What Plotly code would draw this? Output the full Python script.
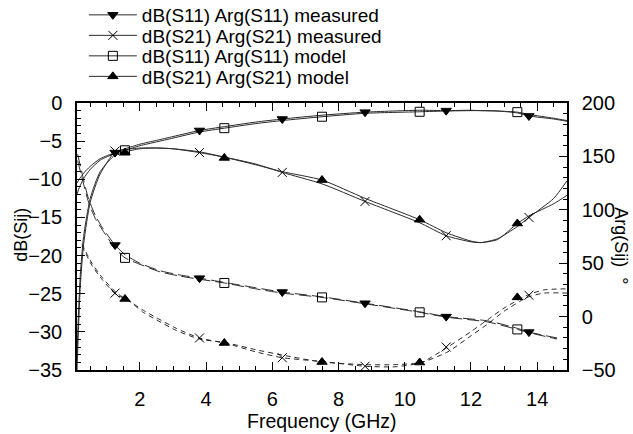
import plotly.graph_objects as go

# ---------------- data ----------------
# dB curves (left axis)
x_db = [0.1, 0.15, 0.2, 0.3, 0.5, 0.8, 1.25, 1.55, 2, 2.5, 3, 3.8, 4.55, 5.5, 6.3, 7.5,
        8.8, 10.45, 11.25, 12, 12.3, 12.8, 13.4, 13.75, 14.5, 14.9]
db_s11_meas = [-10.5, -10.1, -9.8, -9.2, -8.3, -7.3, -6.5, -6.0, -5.4, -4.9, -4.4, -3.6, -3.1,
               -2.5, -2.1, -1.6, -1.2, -0.95, -1.0, -0.95, -1.0, -1.05, -1.3, -1.7, -2.1, -2.4]
db_s11_model = [-12.0, -11.3, -10.8, -9.9, -8.7, -7.5, -6.6, -6.2, -5.6, -5.1, -4.6, -3.8, -3.3,
                -2.7, -2.3, -1.8, -1.35, -1.15, -1.05, -1.0, -1.0, -1.05, -1.2, -1.5, -2.0, -2.3]
db_s21_meas = [-35, -29, -24, -18.5, -13, -9.3, -6.4, -6.1, -5.9, -5.9, -6.0, -6.5, -7.1, -8.0,
               -9.1, -10.6, -12.9, -15.7, -17.4, -18.2, -18.3, -17.8, -16.2, -15.0, -12.5, -10.2]
db_s21_model = [-33, -27, -22.5, -17.5, -12.5, -9.0, -6.8, -6.4, -6.0, -5.9, -6.0, -6.4, -7.1,
                -8.1, -9.0, -10.1, -12.5, -15.3, -17.0, -18.1, -18.3, -17.9, -15.8, -14.8, -13.2, -12.1]

# Arg curves (right axis, degrees)
x_arg11 = [0.12, 0.3, 0.45, 0.65, 0.85, 1.25, 1.55, 2, 2.6, 3.2, 3.8, 4.55, 5.5, 6.3, 7.5,
           8.8, 10.45, 11.25, 12.5, 13.4, 13.75, 14.6]
arg_s11_meas = [152, 128, 110, 95, 84, 67, 58, 50, 43, 39, 36, 32, 27, 23, 18.5,
                12.5, 4.5, 0, -4, -11, -14.5, -20]
arg_s11_model = [146, 124, 107, 92, 82, 64, 55, 49, 42, 38, 35, 31.5, 26, 22, 18,
                 12, 4, -0.5, -5, -12, -15, -21]
x_arg21 = [0.25, 0.55, 0.85, 1.3, 1.6, 2.1, 2.5, 3.1, 3.8, 4.6, 5.5, 6.3, 7.5, 8.8, 9.7,
           10.5, 11.3, 12, 12.5, 13, 13.7, 14.2, 14.9]
arg_s21_meas = [68, 50, 37, 22, 16, 6, -1, -11, -20, -25, -33, -38.5, -42, -46.5, -47,
                -43, -28.5, -14, -3, 8, 20, 25, 26]
arg_s21_model = [66, 48, 35, 20, 16.5, 4, -3, -13, -21, -24.5, -31, -36, -42.5, -45, -45,
                 -43, -33, -18, -7, 5, 18, 22, 22]

# marker positions
mx_meas = [1.25, 3.8, 6.3, 8.8, 11.25, 13.75]
mx_model = [1.55, 4.55, 7.5, 10.45, 13.4]
m_db_s11_meas = [-6.5, -3.6, -2.1, -1.2, -1.0, -1.7]
m_arg_s11_meas = [67, 36, 23, 12.5, 0, -14.5]
m_db_s21_meas = [-6.3, -6.5, -9.1, -12.9, -17.4, -15.0]
m_arg_s21_meas = [22, -20, -38.5, -46.5, -28.5, 20]
m_db_s11_model = [-6.2, -3.3, -1.8, -1.15, -1.2]
m_arg_s11_model = [55, 31.5, 18, 4, -12]
m_db_s21_model = [-6.5, -7.2, -10.1, -15.3, -15.8]
m_arg_s21_model = [16.5, -24.7, -42.5, -43, 18]

names = ["dB(S11) Arg(S11) measured", "dB(S21) Arg(S21) measured",
         "dB(S11) Arg(S11) model", "dB(S21) Arg(S21) model"]

x_ticks = [2, 4, 6, 8, 10, 12, 14]
y1_ticks = [0, -5, -10, -15, -20, -25, -30, -35]
y2_ticks = [200, 150, 100, 50, 0, -50]

# ---------------- figure ----------------
LC = "#2a2a2a"
FONT = "Liberation Sans, Arial, sans-serif"
fig = go.Figure()

def line(x, y, axis, dash):
    fig.add_trace(go.Scatter(x=x, y=y, mode="lines", yaxis=axis, showlegend=False,
                             line=dict(color=LC, width=1, dash=dash, shape="spline", smoothing=0.6),
                             hoverinfo="skip"))

def marks(x, y, axis, symbol):
    fig.add_trace(go.Scatter(x=x, y=y, mode="markers", yaxis=axis, showlegend=False,
                             marker=dict(symbol=symbol, size=9, color="black",
                                         line=dict(color="black", width=1)),
                             hoverinfo="skip"))

line(x_db, db_s11_meas, "y", "solid")
line(x_db, db_s11_model, "y", "solid")
line(x_db, db_s21_meas, "y", "solid")
line(x_db, db_s21_model, "y", "solid")
line(x_arg11, arg_s11_meas, "y2", "12px,5px")
line(x_arg11, arg_s11_model, "y2", "12px,5px")
line(x_arg21, arg_s21_meas, "y2", "5px,4px")
line(x_arg21, arg_s21_model, "y2", "5px,4px")

symbols = ["triangle-down", "x-thin-open", "square-open", "triangle-up"]
marks(mx_meas, m_db_s11_meas, "y", symbols[0])
marks(mx_meas, m_arg_s11_meas, "y2", symbols[0])
marks(mx_meas, m_db_s21_meas, "y", symbols[1])
marks(mx_meas, m_arg_s21_meas, "y2", symbols[1])
marks(mx_model, m_db_s11_model, "y", symbols[2])
marks(mx_model, m_arg_s11_model, "y2", symbols[2])
marks(mx_model, m_db_s21_model, "y", symbols[3])
marks(mx_model, m_arg_s21_model, "y2", symbols[3])

legend_ids = ["legend", "legend2", "legend3", "legend4"]
for nm, sym, lg in zip(names, symbols, legend_ids):
    fig.add_trace(go.Scatter(x=[None], y=[None], mode="lines+markers", name=nm, legend=lg,
                             line=dict(color=LC, width=1),
                             marker=dict(symbol=sym, size=9, color="black",
                                         line=dict(color="black", width=1))))

axis_common = dict(showline=True, linecolor="black", linewidth=1.5, ticks="inside",
                   tickcolor="black", showgrid=False, zeroline=False,
                   tickfont=dict(family=FONT, size=20, color="black"))

legend_rows_px = [15, 35.5, 56, 76.5]
legends = {}
for lg, row in zip(legend_ids, legend_rows_px):
    legends[lg] = dict(x=0.014, y=(370 - row) / 267, xanchor="left", yanchor="middle",
                       bgcolor="rgba(0,0,0,0)", font=dict(family=FONT, size=19),
                       itemwidth=48, tracegroupgap=0)

fig.update_layout(
    width=633, height=434,
    margin=dict(l=77, r=66, t=103, b=64, autoexpand=False),
    paper_bgcolor="white", plot_bgcolor="white",
    font=dict(family=FONT, size=20, color="black"),
    xaxis=dict(range=[0.1, 14.9], tickvals=x_ticks, ticklen=8, mirror="ticks",
               minor=dict(dtick=0.5, tick0=0, ticks="inside", ticklen=4, tickcolor="black"),
               ticklabelstandoff=10, **axis_common),
    yaxis=dict(range=[-35, 0], tickvals=y1_ticks, ticklen=8,
               minor=dict(dtick=1, tick0=0, ticks="inside", ticklen=4, tickcolor="black"),
               ticklabelstandoff=9, **axis_common),
    yaxis2=dict(range=[-50, 200], tickvals=y2_ticks, ticklen=8, overlaying="y", side="right",
                minor=dict(dtick=10, tick0=0, ticks="inside", ticklen=4, tickcolor="black"),
                ticklabelstandoff=9, **axis_common),
    showlegend=True,
    annotations=[
        dict(text="Frequency (GHz)", x=0.5, y=-0.19, xref="paper", yref="paper",
             showarrow=False, xanchor="center", yanchor="middle", font=dict(size=19.5)),
        dict(text="dB(Sij)", x=-0.116, y=0.507, xref="paper", yref="paper", textangle=-90,
             showarrow=False, xanchor="center", yanchor="middle", font=dict(size=18)),
        dict(text="Arg(Sij)  °", x=1.11, y=0.464, xref="paper", yref="paper", textangle=90,
             showarrow=False, xanchor="center", yanchor="middle", font=dict(size=18)),
    ],
    **legends,
)

fig.write_html("out.html")
